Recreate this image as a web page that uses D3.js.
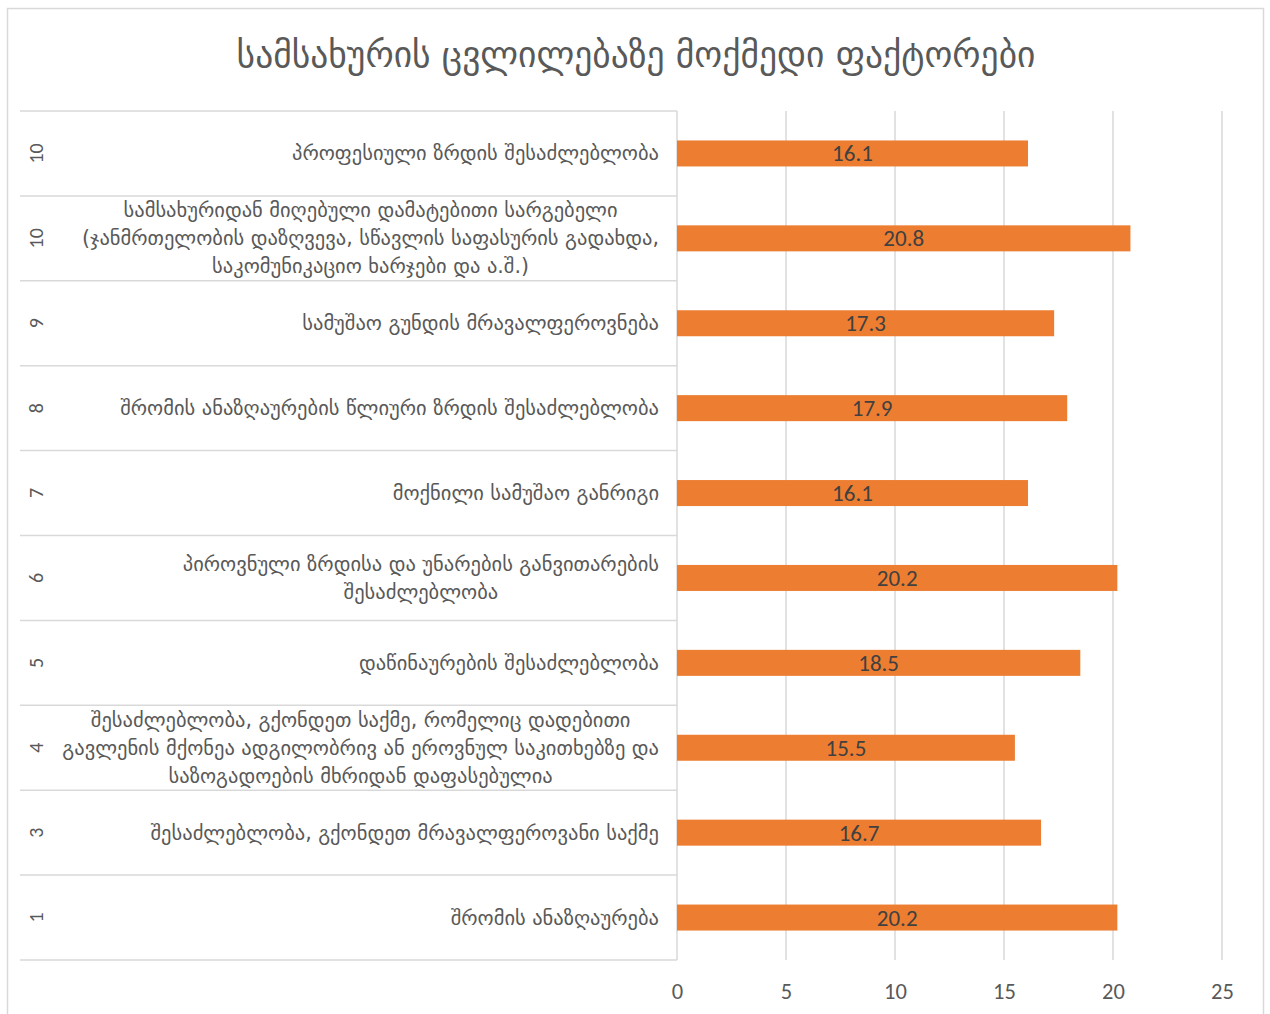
<!DOCTYPE html>
<html>
<head>
<meta charset="utf-8">
<script src="https://cdn.jsdelivr.net/npm/d3@7"></script>
<style>
  html, body { margin: 0; padding: 0; background: #fff; }
  svg { display: block; }
</style>
</head>
<body>
<svg id="chart" width="1270" height="1014"></svg>
<script>
// Chart title
const title = "სამსახურის ცვლილებაზე მოქმედი ფაქტორები";

// Factors listed from top row to bottom row; each label is split into its display lines
const labels = [
  ["პროფესიული ზრდის შესაძლებლობა"],
  ["სამსახურიდან მიღებული დამატებითი სარგებელი",
   "(ჯანმრთელობის დაზღვევა, სწავლის საფასურის გადახდა,",
   "საკომუნიკაციო ხარჯები და  ა.შ.)"],
  ["სამუშაო გუნდის მრავალფეროვნება"],
  ["შრომის ანაზღაურების წლიური ზრდის შესაძლებლობა"],
  ["მოქნილი სამუშაო განრიგი"],
  ["პიროვნული ზრდისა და უნარების განვითარების",
   "შესაძლებლობა"],
  ["დაწინაურების შესაძლებლობა"],
  ["შესაძლებლობა, გქონდეთ საქმე, რომელიც დადებითი",
   "გავლენის მქონეა ადგილობრივ ან ეროვნულ საკითხებზე და",
   "საზოგადოების მხრიდან დაფასებულია"],
  ["შესაძლებლობა, გქონდეთ მრავალფეროვანი საქმე"],
  ["შრომის ანაზღაურება"]
];

// Rank shown in the outer category column
const ranks = ["10", "10", "9", "8", "7", "6", "5", "4", "3", "1"];

// Values (%)
const values = [16.1, 20.8, 17.3, 17.9, 16.1, 20.2, 18.5, 15.5, 16.7, 20.2];

// Value axis ticks
const xTicks = [0, 5, 10, 15, 20, 25];

const svg = d3.select("#chart");
const geo = "'DejaVu Sans', 'Noto Sans', sans-serif";
const num = "Carlito, 'Open Sans', 'Liberation Sans', sans-serif";
const grid = "#d9d9d9";
const textCol = "#595959";

const plot = { left: 677, right: 1222, top: 111, bottom: 960 };
const catLeft = 20;

// Outer chart frame
svg.append("rect")
  .attr("x", 7.5).attr("y", 8.5)
  .attr("width", 1256).attr("height", 1020)
  .attr("fill", "#fff").attr("stroke", grid).attr("stroke-width", 1.5);

// Title
svg.append("text")
  .attr("x", 636).attr("y", 67)
  .attr("text-anchor", "middle")
  .attr("font-family", geo)
  .attr("font-size", 35.5)
  .attr("fill", textCol)
  .text(title);

const idx = d3.range(values.length);
const y = d3.scaleBand().domain(idx).range([plot.top, plot.bottom]).paddingInner(0).paddingOuter(0);
const x = d3.scaleLinear().domain([0, 25]).range([plot.left, plot.right]);

// Vertical gridlines
svg.append("g")
  .selectAll("line")
  .data(xTicks.filter(d => d > 0))
  .join("line")
  .attr("x1", d => x(d)).attr("x2", d => x(d))
  .attr("y1", plot.top).attr("y2", plot.bottom)
  .attr("stroke", grid).attr("stroke-width", 1.5);

// Category separators spanning the two-level label area
const bounds = idx.map(i => y(i)).concat([plot.bottom]);
svg.append("g")
  .selectAll("line")
  .data(bounds)
  .join("line")
  .attr("x1", catLeft).attr("x2", plot.left)
  .attr("y1", d => d).attr("y2", d => d)
  .attr("stroke", grid).attr("stroke-width", 1.5);

// Category axis line
svg.append("line")
  .attr("x1", plot.left).attr("x2", plot.left)
  .attr("y1", plot.top).attr("y2", plot.bottom)
  .attr("stroke", grid).attr("stroke-width", 1.5);

// Value axis tick labels
const xAxis = d3.axisBottom(x).tickValues(xTicks).tickSize(0).tickPadding(0).tickFormat(d3.format("d"));
const gx = svg.append("g").attr("transform", `translate(0, ${plot.bottom + 39})`).call(xAxis);
gx.select(".domain").remove();
gx.selectAll("text")
  .attr("font-family", num).attr("font-size", 22.5).attr("fill", textCol)
  .attr("dy", "0");

// Bars
const barH = 26;
svg.append("g")
  .selectAll("rect")
  .data(values)
  .join("rect")
  .attr("x", x(0))
  .attr("y", (d, i) => y(i) + y.bandwidth() / 2 - barH / 2)
  .attr("width", d => x(d) - x(0))
  .attr("height", barH)
  .attr("fill", "#ed7d31");

// Value labels centred on the bars
svg.append("g")
  .selectAll("text")
  .data(values)
  .join("text")
  .attr("x", d => (x(0) + x(d)) / 2)
  .attr("y", (d, i) => y(i) + y.bandwidth() / 2 + 8)
  .attr("text-anchor", "middle")
  .attr("font-family", num).attr("font-size", 23)
  .attr("fill", "#404040")
  .text(d => d3.format(".1f")(d));

// Rank labels, rotated
svg.append("g")
  .selectAll("text")
  .data(ranks)
  .join("text")
  .attr("transform", (d, i) => `translate(43, ${y(i) + y.bandwidth() / 2}) rotate(-90)`)
  .attr("text-anchor", "middle")
  .attr("font-family", num).attr("font-size", 20)
  .attr("fill", textCol)
  .text(d => d);

// Factor labels: block right-aligned to the axis, lines centred within the block
const lineH = 28;
const labelRight = 659;
const fs = 20.5;
const catG = svg.append("g");
labels.forEach((lines, i) => {
  const cy = y(i) + y.bandwidth() / 2;
  const g = catG.append("g");
  const texts = g.selectAll("text")
    .data(lines)
    .join("text")
    .attr("font-family", geo).attr("font-size", fs)
    .attr("fill", textCol)
    .attr("y", (d, j) => cy + (j - (lines.length - 1) / 2) * lineH + 7)
    .text(d => d);
  const widths = texts.nodes().map(n => n.getComputedTextLength());
  const blockW = d3.max(widths);
  const center = labelRight - blockW / 2;
  texts.attr("x", center).attr("text-anchor", "middle");
});
</script>
</body>
</html>
